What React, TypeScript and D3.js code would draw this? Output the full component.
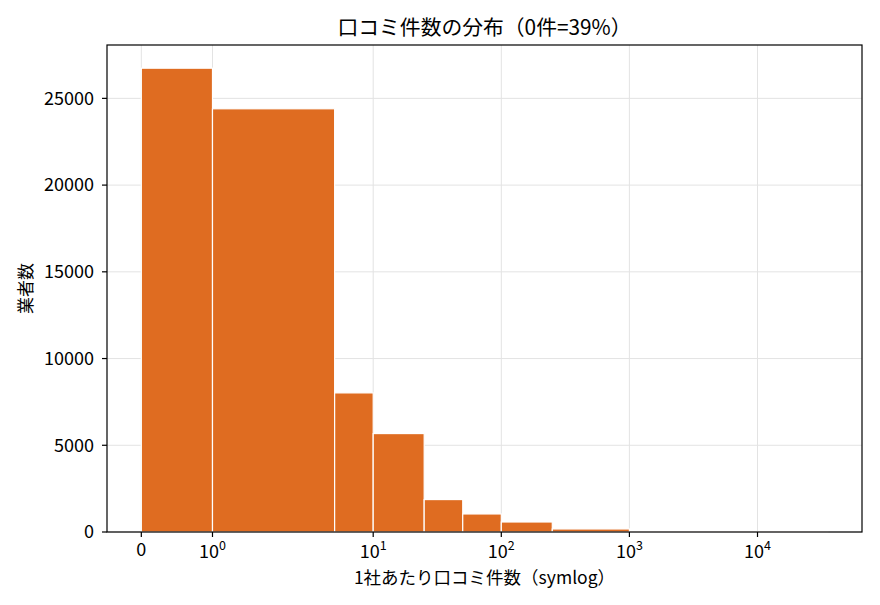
import * as d3 from "d3";

// histogram bin edges (件) and counts per bin
const binEdges = [0, 1, 5, 10, 25, 50, 100, 250, 1000, 35300];
const counts = [26740, 24400, 8020, 5675, 1870, 1040, 577, 175, 12];
const xTickValues = [0, 1, 10, 100, 1000, 10000];
const xTickExponents = ["", "0", "1", "2", "3", "4"];
const yTickValues = [0, 5000, 10000, 15000, 20000, 25000];

const title = "口コミ件数の分布（0件=39%）";
const xLabel = "1社あたり口コミ件数（symlog）";
const yLabel = "業者数";

const W = 880;
const H = 605;
const margin = { top: 45, right: 18, bottom: 73, left: 107 };
const FONT = "'Noto Sans CJK JP', 'Noto Sans', sans-serif";
const BAR = "#df6c21";

// matplotlib style symlog: linthresh 2, linscale 1, base 10
const LINTHRESH = 2;
const LINSCALE_ADJ = 1 / (1 - 1 / 10);
function symlog(v: number) {
  const a = Math.abs(v);
  if (a <= LINTHRESH) return v * LINSCALE_ADJ;
  return Math.sign(v) * LINTHRESH * (LINSCALE_ADJ + Math.log10(a / LINTHRESH));
}

export default function App() {
  const innerW = W - margin.left - margin.right;
  const innerH = H - margin.top - margin.bottom;

  const tMin = symlog(binEdges[0]);
  const tMax = symlog(binEdges[binEdges.length - 1]);
  const pad = (tMax - tMin) * 0.05;
  const tScale = d3
    .scaleLinear()
    .domain([tMin - pad, tMax + pad])
    .range([0, innerW]);
  const x = (v: number) => tScale(symlog(v));

  const yMax = d3.max(counts) as number;
  const y = d3
    .scaleLinear()
    .domain([0, yMax * 1.05])
    .range([innerH, 0]);

  const bins = counts.map((c, i) => ({
    x0: binEdges[i],
    x1: binEdges[i + 1],
    count: c,
  }));

  return (
    <svg
      width={W}
      height={H}
      style={{ position: "absolute", left: 0, top: 0, background: "#fff" }}
      fontFamily={FONT}
    >
      <text
        x={margin.left + innerW / 2}
        y={35}
        textAnchor="middle"
        fontSize={20.8}
        fill="#000"
      >
        {title}
      </text>
      <g transform={`translate(${margin.left}, ${margin.top})`}>
        {/* grid */}
        {xTickValues.map((v) => (
          <line
            key={`gx-${v}`}
            x1={x(v)}
            x2={x(v)}
            y1={0}
            y2={innerH}
            stroke="#e3e3e3"
            strokeWidth={1}
          />
        ))}
        {yTickValues.map((v) => (
          <line
            key={`gy-${v}`}
            x1={0}
            x2={innerW}
            y1={y(v)}
            y2={y(v)}
            stroke="#e3e3e3"
            strokeWidth={1}
          />
        ))}
        {/* bars */}
        {bins.map((b) => (
          <rect
            key={`bar-${b.x0}`}
            x={x(b.x0)}
            y={y(b.count)}
            width={x(b.x1) - x(b.x0)}
            height={innerH - y(b.count)}
            fill={BAR}
            stroke="#fff"
            strokeWidth={1.2}
          />
        ))}
        {/* frame */}
        <rect
          x={0}
          y={0}
          width={innerW}
          height={innerH}
          fill="none"
          stroke="#000"
          strokeWidth={1.2}
        />
        {/* x ticks */}
        {xTickValues.map((v, i) => (
          <g key={`tx-${v}`} transform={`translate(${x(v)}, ${innerH})`}>
            <line y1={0} y2={5} stroke="#000" strokeWidth={1.2} />
            {xTickExponents[i] === "" ? (
              <text y={24} textAnchor="middle" fontSize={18} fill="#000">
                {v}
              </text>
            ) : (
              <text y={26} textAnchor="middle" fontSize={18} fill="#000">
                10
                <tspan fontSize={12.5} dy={-8}>
                  {xTickExponents[i]}
                </tspan>
              </text>
            )}
          </g>
        ))}
        {/* y ticks */}
        {yTickValues.map((v) => (
          <g key={`ty-${v}`} transform={`translate(0, ${y(v)})`}>
            <line x1={0} x2={-5} stroke="#000" strokeWidth={1.2} />
            <text
              x={-13}
              dy="0.35em"
              textAnchor="end"
              fontSize={18}
              fill="#000"
            >
              {v}
            </text>
          </g>
        ))}
        <text
          x={innerW / 2}
          y={innerH + 52}
          textAnchor="middle"
          fontSize={17.5}
          fill="#000"
        >
          {xLabel}
        </text>
        <text
          transform={`translate(${-75}, ${innerH / 2}) rotate(-90)`}
          textAnchor="middle"
          fontSize={17}
          fill="#000"
        >
          {yLabel}
        </text>
      </g>
    </svg>
  );
}
